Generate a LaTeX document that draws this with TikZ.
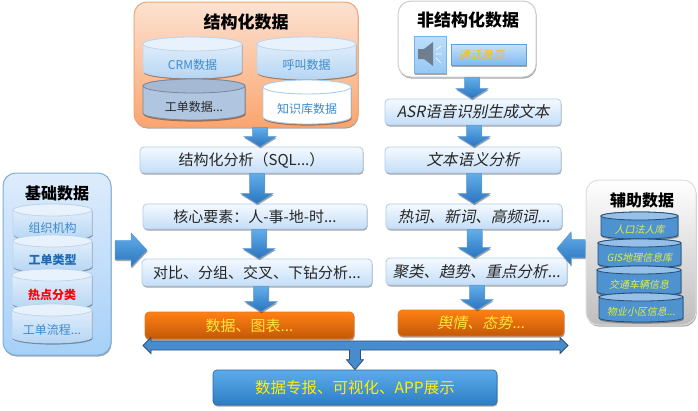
\documentclass[tikz,border=0pt]{standalone}
\usepackage{fontspec}
\setmainfont{Noto Sans CJK SC}[AutoFakeSlant=0.2]
\usetikzlibrary{shadows,calc,positioning}
\definecolor{txt}{HTML}{262626}
\definecolor{cyltxt}{HTML}{3F8ACB}
\definecolor{yel}{HTML}{FFE838}
\definecolor{lime}{HTML}{E4F03C}
\definecolor{stepD}{HTML}{B2CDE8}
\definecolor{stepT}{HTML}{F4F9FF}
\definecolor{stepB}{HTML}{C4DEF8}
\definecolor{orD}{HTML}{E17828}
\definecolor{orT}{HTML}{FF8014}
\definecolor{orB}{HTML}{C35808}
\definecolor{arD}{HTML}{5596D2}
\definecolor{arT}{HTML}{62AEEA}
\definecolor{arB}{HTML}{2A74BE}
\definecolor{cbD}{HTML}{BED4EB}
\definecolor{cbT}{HTML}{E8F2FC}
\definecolor{cbB}{HTML}{B6D6F4}
\definecolor{cbTop}{HTML}{E8F2FC}
\definecolor{cgD}{HTML}{78889B}
\definecolor{cgF}{HTML}{B0C5E0}
\definecolor{cgTop}{HTML}{A5B9D4}
\definecolor{cwD}{HTML}{AACDEE}
\definecolor{cdD}{HTML}{264E78}
\definecolor{cdF}{HTML}{4E92D0}
\definecolor{cdTop}{HTML}{96C0E8}
\definecolor{pOD}{HTML}{F0A573}
\definecolor{pOT}{HTML}{FCE2D2}
\definecolor{pOB}{HTML}{FBA56E}
\definecolor{pWD}{HTML}{CDCDCD}
\definecolor{pBD}{HTML}{7DAFDA}
\definecolor{pBT}{HTML}{DEECFC}
\definecolor{pBB}{HTML}{A6D0F8}
\definecolor{pGD}{HTML}{DEDEDE}
\definecolor{pGB}{HTML}{BEBEBE}
\definecolor{spD}{HTML}{73B2EB}
\definecolor{spT}{HTML}{BEDEFA}
\definecolor{spB}{HTML}{96C8F5}
\definecolor{spI}{HTML}{6F7F8F}
\definecolor{reD}{HTML}{5FA0DC}
\definecolor{reT}{HTML}{C8E2FC}
\definecolor{reB}{HTML}{7DBAF2}
\definecolor{reTxt}{HTML}{FFC000}
\definecolor{outD}{HTML}{2D69A0}
\definecolor{outT}{HTML}{5CACEC}
\definecolor{outB}{HTML}{2D7DC4}
\definecolor{outTxt}{HTML}{FFF000}
\definecolor{busD}{HTML}{2D5073}
\definecolor{busF}{HTML}{488CCD}
\definecolor{typeTxt}{HTML}{1E69B4}
\newcommand\fs[1]{\fontsize{#1pt}{#1pt}\selectfont}
\tikzset{
  x=1pt,y=-1pt,
  softshadow/.style={drop shadow={shadow xshift=0.6pt,shadow yshift=-1.6pt,opacity=.35,fill=black}},
  stepbox/.style={draw=stepD,line width=.8pt,rounded corners=4pt,inner sep=0pt,softshadow,
     top color=stepT,bottom color=stepB,text=txt,font=\fs{15}},
  ostep/.style={stepbox,font=\fs{15.5}\itshape},
  orangebox/.style={draw=orD,line width=.6pt,rounded corners=4pt,inner sep=0pt,softshadow,
     top color=orT,bottom color=orB,text=yel,font=\fs{15}},
  panel/.style n args={3}{draw=#1,line width=1pt,rounded corners=13pt,inner sep=0pt,softshadow,top color=#2,bottom color=#3},
  blockarrow/.style={draw=arD,line width=.5pt,softshadow,top color=arT,bottom color=arB},
  cylblue/.style={draw=cbD,line width=.8pt,top color=cbT,bottom color=cbB,softshadow},
  cyltopblue/.style={draw=cbD,line width=.8pt,fill=cbTop},
  cylgrey/.style={draw=cgD,line width=.8pt,fill=cgF,softshadow},
  cyltopgrey/.style={draw=cgD,line width=.8pt,fill=cgTop},
  cylwhite/.style={draw=cwD,line width=.9pt,fill=white,softshadow},
  cyltopwhite/.style={draw=cwD,line width=.9pt,fill=white},
  cyldark/.style={draw=cdD,line width=.8pt,fill=cdF,softshadow},
  cyltopdark/.style={draw=cdD,line width=.8pt,fill=cdTop},
  cyllabel/.style={inner sep=0pt,text=cyltxt,font=\fs{12}},
}
% \cyl{name}{x0}{y0}{x1}{y1}{ry}{kind}{label style}{text}
\newcommand\cyl[9]{%
  \pgfmathsetmacro\xm{(#2+#4)/2}\pgfmathsetmacro\hw{(#4-#2)/2}\pgfmathsetmacro\kx{.55*\hw}%
  \pgfmathsetmacro\yt{#3+#6}\pgfmathsetmacro\yb{#5-#6}\pgfmathsetmacro\ky{.55*#6}%
  \pgfmathsetmacro\ym{(#3+2*#6+#5)/2}%
  \path[cyl#7] (#2,\yt) -- (#2,\yb) .. controls (#2,\yb+\ky) and (\xm-\kx,#5) .. (\xm,#5)
     .. controls (\xm+\kx,#5) and (#4,\yb+\ky) .. (#4,\yb) -- (#4,\yt)
     .. controls (#4,\yt-\ky) and (\xm+\kx,#3) .. (\xm,#3)
     .. controls (\xm-\kx,#3) and (#2,\yt-\ky) .. (#2,\yt) -- cycle;
  \path[cyltop#7] (\xm,\yt) ellipse [x radius=\hw,y radius=#6];
  \node[cyllabel,#8] (#1) at (\xm,\ym) {#9};%
}
% \darrow{x}{from}{to}: block arrow pointing down between two node anchors
\newcommand\darrow[3]{%
  \coordinate (dA) at (#2);\coordinate (dB) at (#3);
  \path[blockarrow] let \p1=(dA), \p2=(dB) in
    ([xshift=-7.5pt]#1pt,\y1) -- ([xshift=7.5pt]#1pt,\y1) -- ([xshift=7.5pt]#1pt,\y2+10pt) -- ([xshift=16pt]#1pt,\y2+10pt) -- (#1pt,\y2)
    -- ([xshift=-16pt]#1pt,\y2+10pt) -- ([xshift=-7.5pt]#1pt,\y2+10pt) -- cycle;%
}
\begin{document}
\begin{tikzpicture}
\useasboundingbox (0,0) rectangle (698,410);
\fill[white] (0,0) rectangle (698,410);

%--- structured panel
\node[panel={pOD}{pOT}{pOB},minimum width=224pt,minimum height=125pt] (structured) at (246,64.5) {};
\node[inner sep=0pt,font=\fs{17}\bfseries,text=black] (structuredT) at (246,22) {结构化数据};
\cyl{crm}{143}{37}{242}{78}{7}{blue}{}{CRM数据}
\cyl{call}{257}{37}{356}{79}{7}{blue}{}{呼叫数据}
\cyl{order}{143}{79}{245}{120}{7}{grey}{text=txt}{工单数据...}
\cyl{know}{263}{80}{351}{124}{7}{white}{}{知识库数据}

%--- unstructured panel
\node[panel={pWD}{white}{white},minimum width=138pt,minimum height=76pt] (unstruct) at (467,39) {};
\node[inner sep=0pt,font=\fs{17}\bfseries\itshape,text=black] (unstructT) at (468,20) {非结构化数据};
\node[draw=spD,line width=.9pt,top color=spT,bottom color=spB,minimum width=32pt,minimum height=37pt,inner sep=0pt,softshadow] (speaker) at (430,54.5) {};
\fill[spI] (418,49) -- (424,49) -- (433,42) -- (433,66) -- (424,59) -- (418,59) -- cycle;
\draw[white,line width=.7pt] (436,50) -- (441,46) (436,54) -- (442,54) (436,58) -- (441,63);
\node[draw=reD,line width=.8pt,top color=reT,bottom color=reB,minimum width=75pt,minimum height=21pt,inner sep=0pt,softshadow] (record) at (488.5,54.5) {};
\node[inner sep=0pt,font=\fs{11.5}\itshape,text=reTxt] (recordT) at (481.5,55) {通话录音};

%--- step boxes, left
\node[stepbox,minimum width=223pt,minimum height=26pt] (a1) at (251.5,160) {结构化分析（SQL...）};
\node[stepbox,minimum width=224pt,minimum height=25pt] (a2) at (255,216.5) {核心要素：人-事-地-时...};
\node[stepbox,minimum width=230pt,minimum height=27pt] (a3) at (257,272.5) {对比、分组、交叉、下钻分析...};
\node[orangebox,minimum width=209pt,minimum height=27pt] (a4) at (249.5,325.5) {数据、图表...};

%--- step boxes, right
\node[ostep,minimum width=176pt,minimum height=26pt] (b0) at (473,112) {ASR语音识别生成文本};
\node[ostep,minimum width=176pt,minimum height=26pt] (b1) at (473,160) {文本语义分析};
\node[ostep,minimum width=176pt,minimum height=25pt] (b2) at (474,216.5) {热词、新词、高频词...};
\node[ostep,minimum width=181pt,minimum height=27pt] (b3) at (476.5,271.5) {聚类、趋势、重点分析...};
\node[orangebox,font=\fs{15}\itshape,minimum width=166pt,minimum height=26pt] (b4) at (481,323) {舆情、态势...};

%--- final box
\node[draw=outD,line width=.7pt,rounded corners=4pt,inner sep=0pt,softshadow,
   top color=outT,bottom color=outB,text=outTxt,font=\fs{15.5},
   minimum width=284pt,minimum height=35pt] (out) at (355,387.5) {数据专报、可视化、APP展示};

%--- block arrows down
\darrow{260}{structured.south}{a1.north}
\darrow{257}{a1.south}{a2.north}
\darrow{259}{a2.south}{a3.north}
\darrow{261}{a3.south}{a4.north}
\darrow{472}{unstruct.south}{b0.north}
\darrow{474}{b0.south}{b1.north}
\darrow{474}{b1.south}{b2.north}
\darrow{474.5}{b2.south}{b3.north}
\darrow{477}{b3.south}{b4.north}

%--- bus
\coordinate (busL) at (143,345.5);
\coordinate (busR) at (568,345.5);
\path[draw=busD,line width=.8pt,fill=busF]
  let \p1=(busL), \p2=(busR), \p3=(out.north) in
  (\x1,\y1) -- (\x1+8pt,\y1-8pt) -- (\x1+8pt,\y1-4.5pt) -- (\x3-5.5pt,\y1-4.5pt) -- (\x3-5.5pt,\y3+10pt) -- (\x3-8.5pt,\y3+10pt)
  -- (\x3,\y3) -- (\x3+8.5pt,\y3+10pt) -- (\x3+5.5pt,\y3+10pt) -- (\x3+5.5pt,\y1-4.5pt)
  -- (\x2-8pt,\y1-4.5pt) -- (\x2-8pt,\y1-8pt) -- (\x2,\y1) -- (\x2-8pt,\y1+8pt) -- (\x2-8pt,\y1+4.5pt)
  -- (\x1+8pt,\y1+4.5pt) -- (\x1+8pt,\y1+8pt) -- cycle;

%--- basic data panel
\node[panel={pBD}{pBT}{pBB},minimum width=108pt,minimum height=182pt] (basic) at (57,264) {};
\node[inner sep=0pt,font=\fs{16}\bfseries,text=black] (basicT) at (57,193) {基础数据};
\cyl{c1}{13}{204}{92}{240}{6}{blue}{}{组织机构}
\cyl{c2}{13}{235}{92}{272}{6}{blue}{font=\fs{12}\bfseries,text=typeTxt}{工单类型}
\cyl{c3}{12}{269}{92}{309}{6}{blue}{font=\fs{12}\bfseries,text=red}{热点分类}
\cyl{c4}{12}{304}{92}{343}{6}{blue}{}{工单流程...}

\coordinate (inLs) at (115,250);
\coordinate (inLe) at (147,250);
\path[blockarrow] let \p1=(inLs), \p2=(inLe) in
  (\x1,\y1+9.5pt) -- (\x1+16pt,\y1+9.5pt) -- (\x1+16pt,\y1+17pt) -- (\x2,\y1) -- (\x1+16pt,\y1-17pt)
  -- (\x1+16pt,\y1-9.5pt) -- (\x1,\y1-9.5pt) -- cycle;

%--- auxiliary panel
\node[panel={pGD}{white}{pGB},minimum width=110pt,minimum height=145pt] (aux) at (641,252.5) {};
\node[inner sep=0pt,font=\fs{16}\bfseries\itshape,text=black] (auxT) at (642,200) {辅助数据};
\cyl{d1}{601}{212}{678}{239}{4}{dark}{font=\fs{10}\itshape,text=lime}{人口法人库}
\cyl{d2}{598}{239}{681}{268}{4}{dark}{font=\fs{10}\itshape,text=lime}{GIS地理信息库}
\cyl{d3}{597}{266}{681}{296}{4}{dark}{font=\fs{10}\itshape,text=lime}{交通车辆信息}
\cyl{d4}{599}{293}{683}{322}{4}{dark}{font=\fs{10}\itshape,text=lime}{物业小区信息...}

\coordinate (inRs) at (585,248.5);
\coordinate (inRe) at (557,248.5);
\path[blockarrow] let \p1=(inRs), \p2=(inRe) in
  (\x1,\y1+9pt) -- (\x2+14pt,\y1+9pt) -- (\x2+14pt,\y1+16.5pt) -- (\x2,\y1) -- (\x2+14pt,\y1-16.5pt)
  -- (\x2+14pt,\y1-9pt) -- (\x1,\y1-9pt) -- cycle;
\end{tikzpicture}
\end{document}
